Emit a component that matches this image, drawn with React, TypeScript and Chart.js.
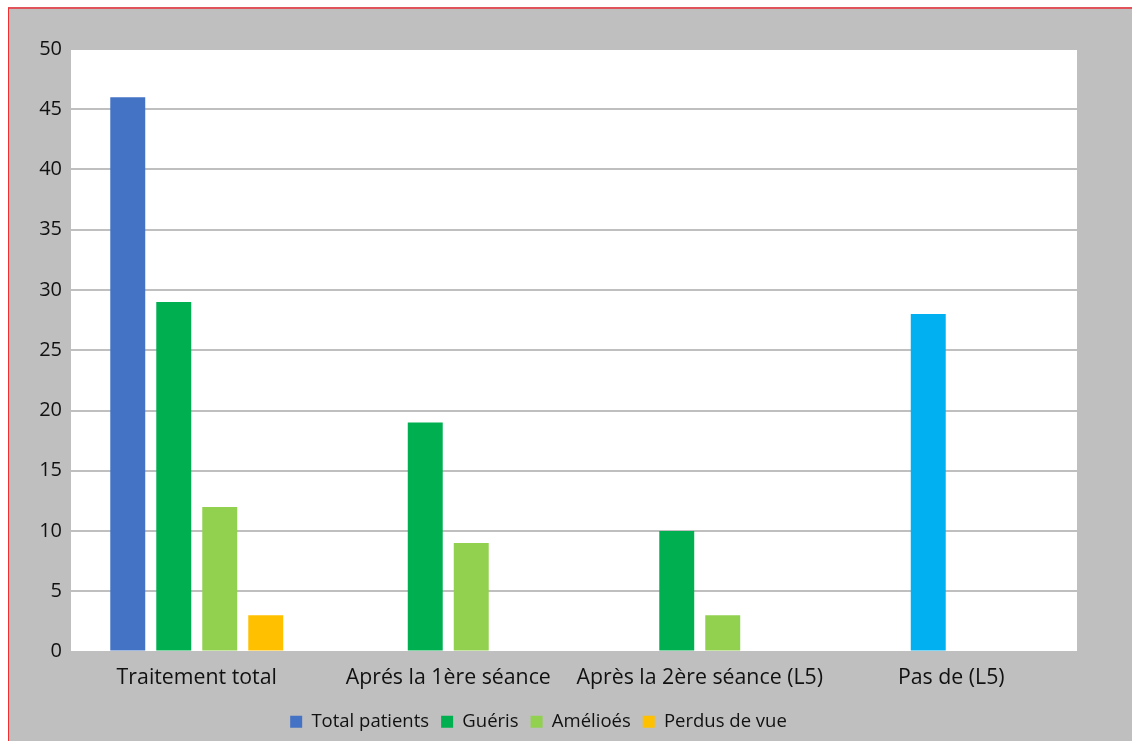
import React, { useEffect, useRef } from "react";
import { Chart, registerables } from "chart.js";

Chart.register(...registerables);

const categories = [
  "Traitement total",
  "Aprés la 1ère séance",
  "Après la 2ère séance (L5)",
  "Pas de (L5)",
];
const totalPatients = [46, null, null, null];
const gueris = [29, 19, 10, 28];
const ameliores = [12, 9, 3, null];
const perdusDeVue = [3, null, null, null];
const yTicks = [0, 5, 10, 15, 20, 25, 30, 35, 40, 45, 50];

const FONT = "'Open Sans', 'Noto Sans', sans-serif";

const plotBackground = {
  id: "plotBackground",
  beforeDraw(chart: any) {
    const { ctx, chartArea } = chart;
    ctx.save();
    ctx.fillStyle = "#FFFFFF";
    ctx.fillRect(chartArea.left, chartArea.top, chartArea.right - chartArea.left, chartArea.bottom - chartArea.top);
    ctx.restore();
  },
};

export default function App() {
  const canvasRef = useRef<HTMLCanvasElement | null>(null);

  useEffect(() => {
    if (!canvasRef.current) return;
    const chart = new Chart(canvasRef.current, {
      type: "bar",
      data: {
        labels: categories,
        datasets: [
          { label: "Total patients", data: totalPatients, backgroundColor: "#4472C4" },
          {
            label: "Guéris",
            data: gueris,
            backgroundColor: (c: any) => (c.dataIndex === 3 ? "#00B0F0" : "#00B050"),
          },
          { label: "Amélioés", data: ameliores, backgroundColor: "#92D050" },
          { label: "Perdus de vue", data: perdusDeVue, backgroundColor: "#FFC000" },
        ],
      },
      options: {
        animation: false,
        responsive: false,
        maintainAspectRatio: false,
        layout: { padding: { left: 0, top: 49, right: 55, bottom: 0 } },
        datasets: { bar: { categoryPercentage: 0.7316, barPercentage: 0.76 } },
        plugins: {
          tooltip: { enabled: false },
          legend: {
            position: "bottom",
            labels: {
              boxWidth: 12,
              boxHeight: 12,
              padding: 12,
              color: "#111111",
              font: { family: FONT, size: 18.5 },
            },
          },
        },
        scales: {
          x: {
            grid: { display: false, drawTicks: false },
            border: { display: false },
            ticks: {
              color: "#111111",
              padding: 14,
              maxRotation: 0,
              minRotation: 0,
              autoSkip: false,
              font: { family: FONT, size: 21.3 },
            },
            afterFit: (s: any) => {
              s.height = 49;
            },
          },
          y: {
            min: 0,
            max: 50,
            afterBuildTicks: (s: any) => {
              s.ticks = yTicks.map((v) => ({ value: v }));
            },
            grid: { color: "#BFBFBF", lineWidth: 2, drawTicks: false },
            border: { display: false },
            ticks: { color: "#111111", padding: 9, font: { family: FONT, size: 20 } },
            afterFit: (s: any) => {
              s.width = 71;
            },
          },
        },
      },
      plugins: [plotBackground],
    } as any);
    return () => chart.destroy();
  }, []);

  return (
    <div style={{ position: "fixed", left: 0, top: 0, width: 1132, height: 741, background: "#FFFFFF" }}>
      <div
        style={{
          position: "absolute",
          left: 8,
          top: 7,
          right: 0,
          bottom: 0,
          background: "#BFBFBF",
          borderTop: "2px solid #E0535A",
          borderLeft: "1px solid #F03030",
        }}
      />
      <canvas
        ref={canvasRef}
        width={1132}
        height={741}
        style={{ position: "absolute", left: 0, top: 0, width: 1132, height: 741 }}
      />
    </div>
  );
}
